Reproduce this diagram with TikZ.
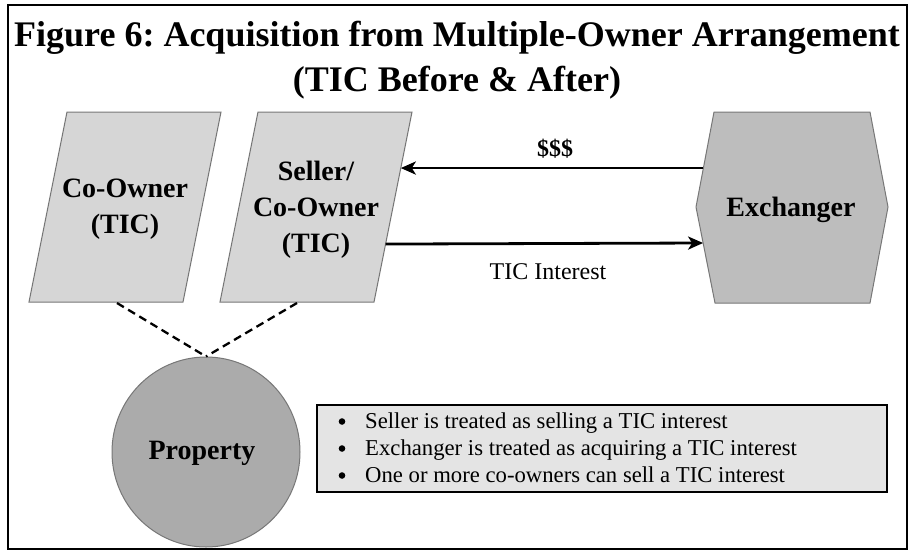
\documentclass[tikz,border=0pt]{standalone}
\usepackage{fontspec}
\setmainfont{Liberation Serif}
\usetikzlibrary{arrows.meta,calc,shapes.geometric}
\frenchspacing

\definecolor{paraFill}{HTML}{D6D6D6}
\definecolor{hexFill}{HTML}{BDBDBD}
\definecolor{propFill}{HTML}{ABABAB}
\definecolor{noteFill}{HTML}{E4E4E4}
\definecolor{shapeEdge}{HTML}{777777}

\tikzset{
  partyshape/.style={fill=paraFill, draw=shapeEdge, line width=1pt},
  exchshape/.style={fill=hexFill, draw=shapeEdge, line width=1pt},
  bigbold/.style={font=\fontsize{28}{36}\selectfont\bfseries, align=center, inner sep=0pt},
  flow/.style={line width=2.8pt, -{Stealth[length=15pt,width=13pt,inset=4pt]}},
  flowlabel/.style={font=\fontsize{24}{28}\selectfont, inner sep=0pt},
  tie/.style={line width=2.3pt, dash pattern=on 8pt off 5pt},
  titletext/.style={font=\fontsize{36}{44}\selectfont\bfseries, inner sep=0pt, anchor=base},
  noteline/.style={font=\fontsize{22.7}{27}\selectfont, inner sep=0pt, anchor=base west}
}

\begin{document}
\begin{tikzpicture}[x=1pt,y=-1pt]
  \useasboundingbox (0,0) rectangle (909,552);
  \fill[white] (0,0) rectangle (909,552);

  % outer frame
  \draw[line width=2.8pt] (8,5) rectangle (907,549);

  % title
  \node[titletext] (title1) at (457,46) {Figure 6: Acquisition from Multiple-Owner Arrangement};
  \node[titletext] (title2) at (457,91) {(TIC Before \& After)};

  % co-owner parallelogram
  \draw[partyshape] (29,302) -- (183,302) -- (221,112) -- (67,112) -- cycle;
  \node[bigbold] (coowner) at (125,209) {Co-Owner\\(TIC)};

  % seller parallelogram
  \draw[partyshape] (220,302) -- (374,302) -- (412,112) -- (258,112) -- cycle;
  \node[bigbold] (seller) at (316,210) {Seller/\\Co-Owner\\(TIC)};

  % exchanger hexagon
  \draw[exchshape] (714,112) -- (870,112) -- (888,207) -- (870,303) -- (715,303) -- (696,207) -- cycle;
  \node[bigbold] (exch) at (791,210) {Exchanger};

  % edge points on the shapes used by the connectors
  \coordinate (sellerTop) at ($(374,302)!0.705!(412,112)$);
  \coordinate (sellerBot) at ($(374,302)!0.305!(412,112)$);
  \coordinate (exchTop) at ($(714,112)!0.59!(696,207)$);
  \coordinate (exchBot) at ($(696,207)!0.375!(715,303)$);
  \coordinate (coBottom) at (117,303);
  \coordinate (selBottom) at (297,303);

  % property circle
  \node[ellipse, fill=propFill, draw=shapeEdge, line width=1pt,
        minimum width=188pt, minimum height=190pt, inner sep=0pt] (prop) at (206,452) {};
  \node[bigbold] (proptext) at (202,453) {Property};

  % flows between seller and exchanger
  \draw[flow] (exchTop) -- (sellerTop);
  \draw[flow] (sellerBot) -- (exchBot);
  \node[flowlabel, font=\fontsize{24}{28}\selectfont\bfseries] (money) at (555,149) {\$\$\$};
  \node[flowlabel] (interest) at (548,272) {TIC Interest};

  % ownership ties to the property
  \draw[tie] (coBottom) -- (prop.north);
  \draw[tie] (selBottom) -- (prop.north);

  % notes box with its bullet list
  \draw[fill=noteFill, line width=2.2pt] (317,405) rectangle (887,492);
  \foreach \yb in {428,455,482} \fill (342,\yb-6.5) circle (3.3pt);
  \node[noteline] (note1) at (365,428) {Seller is treated as selling a TIC interest};
  \node[noteline] (note2) at (365,455) {Exchanger is treated as acquiring a TIC interest};
  \node[noteline] (note3) at (365,482) {One or more co-owners can sell a TIC interest};
\end{tikzpicture}
\end{document}
